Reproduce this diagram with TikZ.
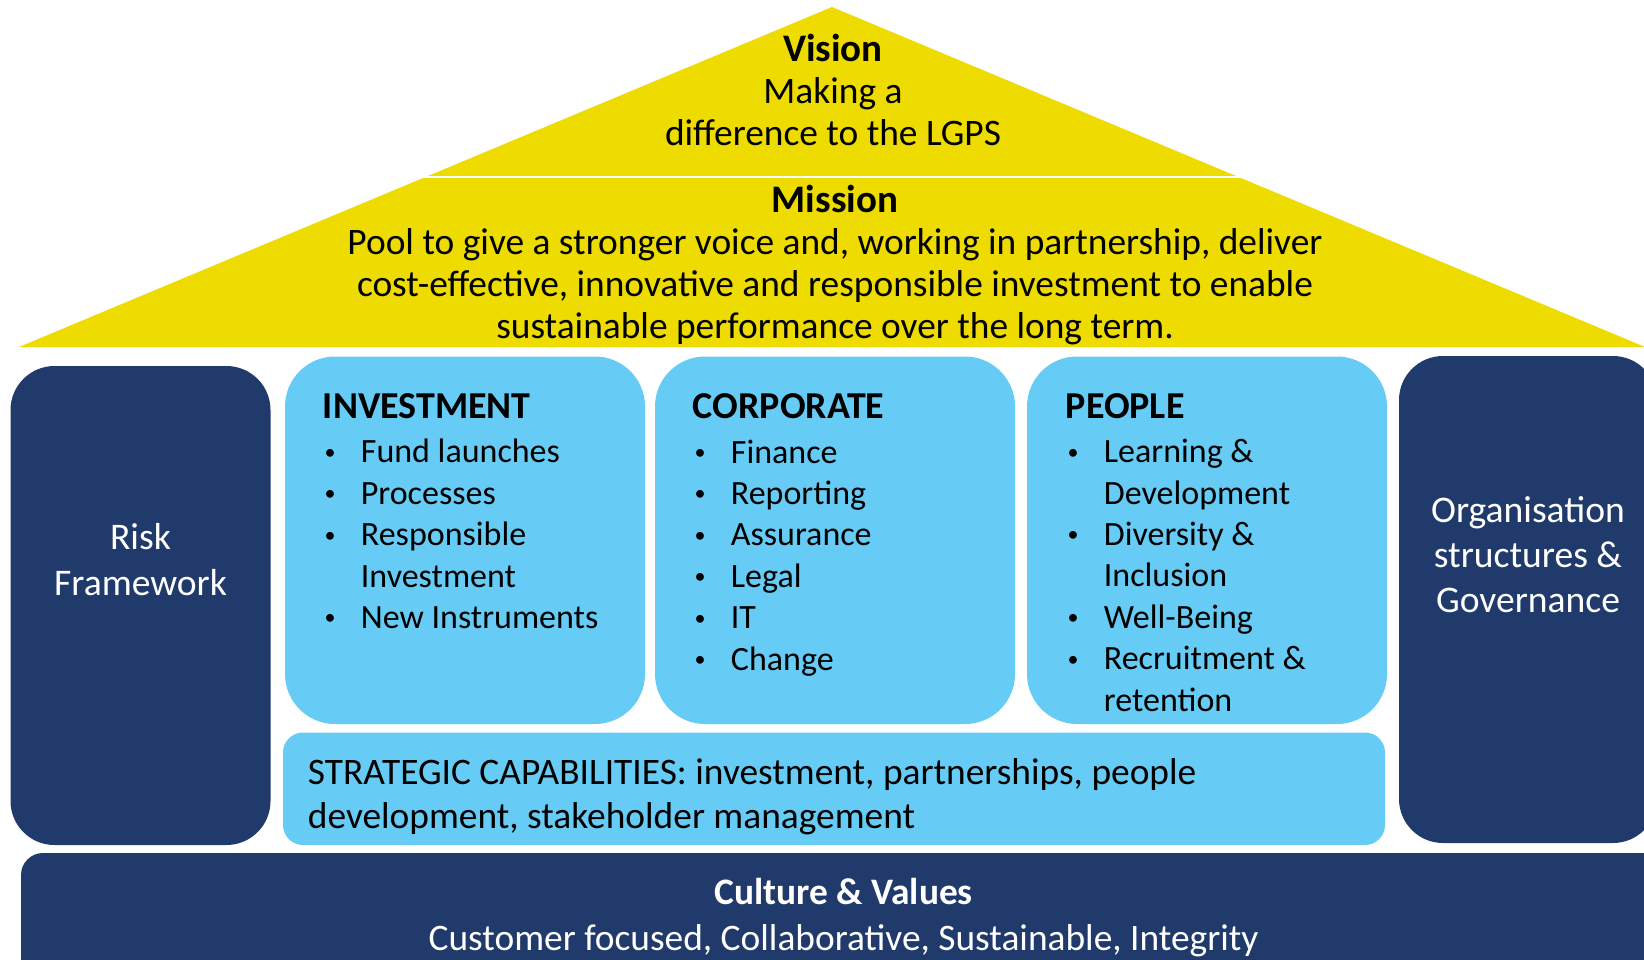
\documentclass[tikz,border=0pt]{standalone}
\usepackage{fontspec}
\setmainfont{Carlito}
\definecolor{roofyellow}{HTML}{EEDC00}
\definecolor{pillarblue}{HTML}{66CCF5}
\definecolor{navy}{HTML}{213A6C}
% small bullet and continuation indents for the pillar lists
\newcommand{\pitem}{\hspace*{0.8pt}\makebox[18.2pt][l]{\raisebox{1.8pt}{\fontsize{11}{11}\selectfont •}}}
\newcommand{\pcont}{\hspace*{19pt}}
\newcommand{\phead}[1]{{\fontsize{19}{20.7}\selectfont\bfseries #1}}
\tikzset{
  roof/.style={fill=roofyellow},
  pillar/.style={fill=pillarblue, rounded corners=25pt},
  band/.style={fill=pillarblue, rounded corners=10pt},
  post/.style={fill=navy, rounded corners=22pt},
  base/.style={fill=navy, rounded corners=11pt},
  rooftext/.style={inner sep=0pt, align=center, anchor=base, font=\fontsize{18.7}{21}\selectfont},
  listtext/.style={inner sep=0pt, align=left, anchor=base west, font=\fontsize{17}{20.7}\selectfont},
  posttext/.style={inner sep=0pt, align=center, anchor=base, text=white, font=\fontsize{18.8}{22.6}\selectfont},
}
\begin{document}
\begin{tikzpicture}[x=0.5pt, y=-0.5pt]
  \useasboundingbox (0,0) rectangle (1644,959);
  \clip (0,0) rectangle (1644,959);

  % roof: vision above, mission below, split by a thin white line
  \path[roof] (19,347) -- (832,7) -- (1645,347) -- cycle;
  \draw[white, line width=1.3pt] (380,176.8) -- (1290,176.8);

  % multi-line nodes are anchored at the baseline of their last line
  \node[rooftext] (vision) at (833,145)
    {{\fontsize{19.5}{21}\selectfont\bfseries Vision}\\Making a\\difference to the LGPS};
  \node[rooftext] (mission) at (835,338)
    {{\fontsize{19.5}{21}\selectfont\bfseries Mission}\\Pool to give a stronger voice and, working in partnership, deliver\\
     cost-effective, innovative and responsible investment to enable\\
     sustainable performance over the long term.};

  % side posts
  \path[post] (10.5,366) rectangle (270.5,845);
  \path[post] (1399,356) rectangle (1657,843);
  \node[posttext] (risk) at (140.5,595) {Risk\\Framework};
  \node[posttext] (org) at (1528,612.5) {Organisation\\structures \&\\Governance};

  % three pillars
  \path[pillar] (285,356.5) rectangle (645,724);
  \path[pillar] (655,356.5) rectangle (1015,724);
  \path[pillar] (1027,356.5) rectangle (1387,724);

  \node[listtext] (invest) at (322.5,628.5)
    {\phead{INVESTMENT}\\[1.4pt]
     \pitem Fund launches\\
     \pitem Processes\\
     \pitem Responsible\\
     \pcont Investment\\
     \pitem New Instruments};
  \node[listtext] (corp) at (692.5,670)
    {\phead{CORPORATE}\\[1.4pt]
     \pitem Finance\\
     \pitem Reporting\\
     \pitem Assurance\\
     \pitem Legal\\
     \pitem IT\\
     \pitem Change};
  \node[listtext] (people) at (1065.5,711)
    {\phead{PEOPLE}\\[1.4pt]
     \pitem Learning \&\\
     \pcont Development\\
     \pitem Diversity \&\\
     \pcont Inclusion\\
     \pitem Well-Being\\
     \pitem Recruitment \&\\
     \pcont retention};

  % strategic capabilities band
  \path[band] (283,732.5) rectangle (1385,845);
  \node[listtext, font=\fontsize{18.7}{22}\selectfont] (strat) at (307.5,828)
    {STRATEGIC CAPABILITIES: investment, partnerships, people\\
     development, stakeholder management};

  % foundation
  \path[base] (21,853) rectangle (1666,990);
  \node[rooftext, text=white, font=\fontsize{18.7}{23}\selectfont] (culture) at (843.5,950)
    {\textbf{Culture \& Values}\\Customer focused, Collaborative, Sustainable, Integrity};
\end{tikzpicture}
\end{document}
